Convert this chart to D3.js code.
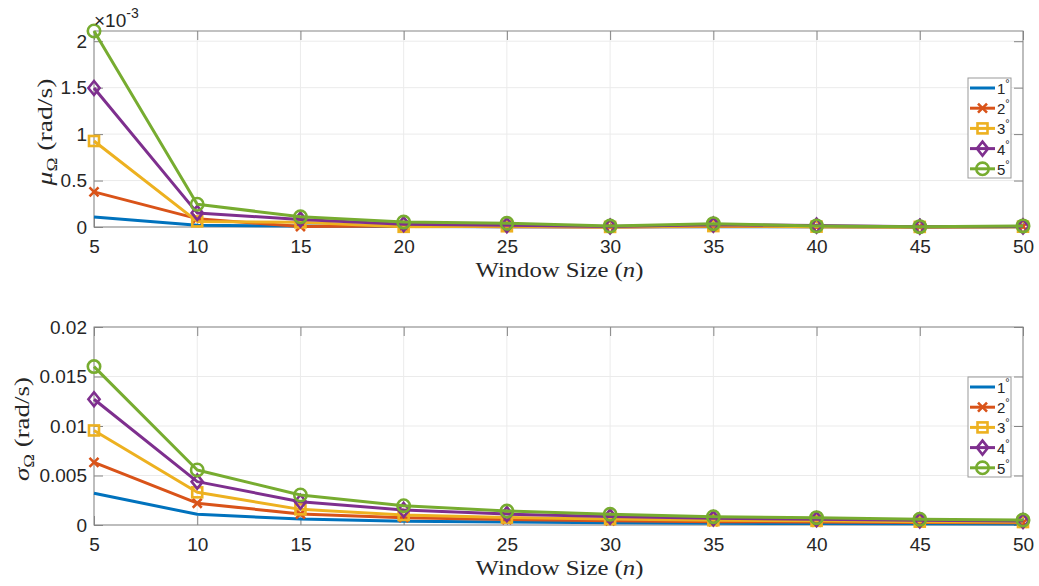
<!DOCTYPE html>
<html>
<head>
<meta charset="utf-8">
<script src="https://cdn.jsdelivr.net/npm/d3@7"></script>
<style>
  html, body { margin: 0; padding: 0; background: #fff; }
  svg { display: block; }
</style>
</head>
<body>
<svg id="chart" width="1039" height="586"></svg>
<script>
// Window sizes on the x axis
const windowSizes = [5, 10, 15, 20, 25, 30, 35, 40, 45, 50];
const seriesNames = ["1", "2", "3", "4", "5"];

// Mean angular-rate error (rad/s) per misalignment angle
const mu1 = [0.000107, 0.000020, 0.000010, 0.000005, 0.000004, 0.000002, 0.000003, 0.000002, 0.000001, 0.000002];
const mu2 = [0.000378, 0.000090, 0.000005, 0.000010, 0.000004, 0.000001, 0.000006, 0.000003, 0.000001, 0.000004];
const mu3 = [0.000926, 0.000060, 0.000050, 0.000002, 0.000008, 0.000001, 0.000010, 0.000004, 0.000001, 0.000003];
const mu4 = [0.001496, 0.000152, 0.000080, 0.000030, 0.000020, 0.000005, 0.000025, 0.000015, 0.000003, 0.000006];
const mu5 = [0.002110, 0.000245, 0.000110, 0.000053, 0.000040, 0.000010, 0.000036, 0.000012, 0.000004, 0.000012];

// Standard deviation of angular-rate error (rad/s)
const sd1 = [0.00320, 0.00108, 0.00060, 0.00038, 0.00030, 0.00022, 0.00017, 0.00015, 0.00012, 0.00010];
const sd2 = [0.00633, 0.00220, 0.00111, 0.00074, 0.00055, 0.00043, 0.00034, 0.00030, 0.00025, 0.00022];
const sd3 = [0.00955, 0.00330, 0.00158, 0.00101, 0.00075, 0.00060, 0.00048, 0.00042, 0.00034, 0.00030];
const sd4 = [0.01270, 0.00438, 0.00235, 0.00152, 0.00110, 0.00085, 0.00067, 0.00058, 0.00047, 0.00040];
const sd5 = [0.01600, 0.00556, 0.00303, 0.00195, 0.00141, 0.00108, 0.00084, 0.00074, 0.00058, 0.00050];

// Tick values
const xTicks = [5, 10, 15, 20, 25, 30, 35, 40, 45, 50];
const muTicks = [0, 0.0005, 0.001, 0.0015, 0.002];
const sdTicks = [0, 0.005, 0.01, 0.015, 0.02];

const colors = ["#0072BD", "#D95319", "#EDB120", "#7E2F8E", "#77AC30"];
const markers = ["none", "x", "square", "diamond", "circle"];

const svg = d3.select("#chart");
const tickFont = "'Liberation Sans', Arial, sans-serif";
const texFont = "'Liberation Serif', 'Times New Roman', serif";
const axisColor = "#858585";
const textColor = "#262626";

function drawMarker(g, type, color) {
  const sw = 2.6;
  if (type === "x") {
    const s = 4.5;
    g.append("path").attr("d", `M${-s},${-s}L${s},${s}M${-s},${s}L${s},${-s}`)
      .attr("stroke", color).attr("stroke-width", sw).attr("fill", "none");
  } else if (type === "square") {
    const s = 5;
    g.append("rect").attr("x", -s).attr("y", -s).attr("width", 2 * s).attr("height", 2 * s)
      .attr("stroke", color).attr("stroke-width", sw).attr("fill", "none");
  } else if (type === "diamond") {
    const s = 7;
    g.append("path").attr("d", `M0,${-s}L${s * 0.8},0L0,${s}L${-s * 0.8},0Z`)
      .attr("stroke", color).attr("stroke-width", sw).attr("fill", "none");
  } else if (type === "circle") {
    g.append("circle").attr("r", 6.2)
      .attr("stroke", color).attr("stroke-width", sw).attr("fill", "none");
  }
}

// Stretch a label horizontally (in its own frame) so it spans the given length
function fitWidth(textSel, length) {
  const w = textSel.node().getComputedTextLength();
  const k = length / w;
  const base = textSel.attr("transform") || "";
  textSel.attr("transform", `${base} scale(${k},1)`);
}

function drawPanel(cfg) {
  const { left, right, top, bottom, series, yTicks, yMax, tickScale, yLabelSym, yLabelX, yLabelLen, legendTop } = cfg;
  const x = d3.scaleLinear().domain([5, 50]).range([left, right]);
  const y = d3.scaleLinear().domain([0, yMax]).range([bottom, top]);
  const g = svg.append("g");

  // grid
  g.append("g").selectAll("line").data(xTicks).join("line")
    .attr("x1", d => x(d)).attr("x2", d => x(d)).attr("y1", top).attr("y2", bottom)
    .attr("stroke", "#ebebeb").attr("stroke-width", 1);
  g.append("g").selectAll("line").data(yTicks).join("line")
    .attr("x1", left).attr("x2", right).attr("y1", d => y(d)).attr("y2", d => y(d))
    .attr("stroke", "#ebebeb").attr("stroke-width", 1);

  // axes with inward ticks
  const tl = 9;
  const fmt = d => d3.format("~g")(+(d / tickScale).toPrecision(6));
  const bottomAxis = g.append("g").attr("transform", `translate(0,${bottom})`)
    .call(d3.axisBottom(x).tickValues(xTicks).tickSizeInner(-tl).tickSizeOuter(0).tickPadding(13));
  const leftAxis = g.append("g").attr("transform", `translate(${left},0)`)
    .call(d3.axisLeft(y).tickValues(yTicks).tickSizeInner(-tl).tickSizeOuter(0).tickPadding(7).tickFormat(fmt));
  const topAxis = g.append("g").attr("transform", `translate(0,${top})`)
    .call(d3.axisTop(x).tickValues(xTicks).tickSizeInner(-tl).tickSizeOuter(0).tickFormat(""));
  const rightAxis = g.append("g").attr("transform", `translate(${right},0)`)
    .call(d3.axisRight(y).tickValues(yTicks).tickSizeInner(-tl).tickSizeOuter(0).tickFormat(""));
  [bottomAxis, leftAxis, topAxis, rightAxis].forEach(a => {
    a.select(".domain").remove();
    a.selectAll(".tick line").attr("stroke", axisColor).attr("stroke-width", 1);
    a.selectAll(".tick text").attr("fill", textColor).attr("font-family", tickFont).attr("font-size", 19);
  });
  g.append("rect").attr("x", left).attr("y", top).attr("width", right - left).attr("height", bottom - top)
    .attr("fill", "none").attr("stroke", axisColor).attr("stroke-width", 1);

  // series lines and markers
  const line = d3.line().x((d, i) => x(windowSizes[i])).y(d => y(d));
  series.forEach((vals, si) => {
    g.append("path").datum(vals).attr("d", line)
      .attr("fill", "none").attr("stroke", colors[si]).attr("stroke-width", 3)
      .attr("stroke-linejoin", "round");
    if (markers[si] !== "none") {
      vals.forEach((v, i) => {
        const mg = g.append("g").attr("transform", `translate(${x(windowSizes[i])},${y(v)})`);
        drawMarker(mg, markers[si], colors[si]);
      });
    }
  });

  // x label
  const xl = g.append("text").attr("transform", `translate(${(left + right) / 2 + 1},${bottom + 50})`)
    .attr("text-anchor", "middle").attr("font-family", texFont).attr("font-size", 20).attr("fill", textColor);
  xl.append("tspan").text("Window Size (");
  xl.append("tspan").attr("font-style", "italic").text("n");
  xl.append("tspan").text(")");
  fitWidth(xl, 168);

  // y label
  const yl = g.append("text").attr("transform", `translate(${yLabelX},${(top + bottom) / 2 + 3}) rotate(-90)`)
    .attr("text-anchor", "middle").attr("font-family", texFont).attr("font-size", 22).attr("fill", textColor);
  yl.append("tspan").attr("font-style", "italic").text(yLabelSym);
  yl.append("tspan").attr("font-size", 15).attr("dy", 5).text("Ω");
  yl.append("tspan").attr("dy", -5).text(" (rad/s)");
  fitWidth(yl, yLabelLen);

  // legend
  const lx = 968, lw = 43, lh = 100;
  const lg = g.append("g");
  lg.append("rect").attr("x", lx).attr("y", legendTop).attr("width", lw).attr("height", lh)
    .attr("fill", "#fff").attr("stroke", "#9a9a9a").attr("stroke-width", 1);
  seriesNames.forEach((name, si) => {
    const cy = legendTop + 10 + si * 20.2;
    lg.append("line").attr("x1", lx + 2).attr("x2", lx + 27).attr("y1", cy).attr("y2", cy)
      .attr("stroke", colors[si]).attr("stroke-width", 3);
    if (markers[si] !== "none") {
      const mg = lg.append("g").attr("transform", `translate(${lx + 14.5},${cy})`);
      drawMarker(mg, markers[si], colors[si]);
    }
    const t = lg.append("text").attr("x", lx + 29).attr("y", cy + 6)
      .attr("font-family", tickFont).attr("font-size", 15).attr("fill", textColor);
    t.append("tspan").text(name);
    t.append("tspan").attr("font-size", 11).attr("dy", -7).text("°");
  });
  return g;
}

drawPanel({
  left: 94, right: 1023, top: 31, bottom: 227,
  series: [mu1, mu2, mu3, mu4, mu5], yTicks: muTicks, yMax: d3.max(mu5),
  tickScale: 1e-3, yLabelSym: "μ", yLabelX: 52, yLabelLen: 107, legendTop: 78
});

drawPanel({
  left: 94, right: 1023, top: 327, bottom: 525,
  series: [sd1, sd2, sd3, sd4, sd5], yTicks: sdTicks, yMax: 0.02,
  tickScale: 1, yLabelSym: "σ", yLabelX: 29, yLabelLen: 104, legendTop: 377
});

// exponent label above the top panel
const ex = svg.append("text").attr("x", 94).attr("y", 27)
  .attr("font-family", tickFont).attr("font-size", 19).attr("fill", textColor);
ex.append("tspan").text("×10");
ex.append("tspan").attr("font-size", 14).attr("dy", -9).text("-3");
</script>
</body>
</html>
